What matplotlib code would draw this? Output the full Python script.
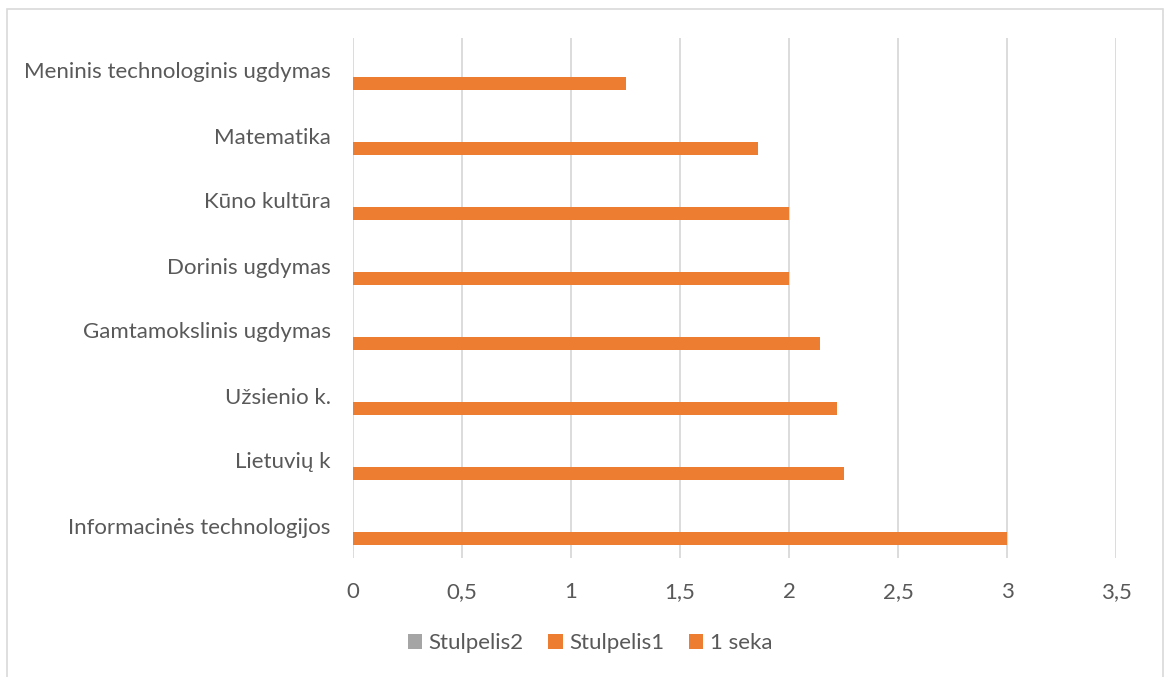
import matplotlib.pyplot as plt
import numpy as np
from matplotlib.patches import Rectangle
from matplotlib.ticker import FuncFormatter

# --- Data ---
categories = [
    "Informacinės technologijos",
    "Lietuvių k",
    "Užsienio k.",
    "Gamtamokslinis ugdymas",
    "Dorinis ugdymas",
    "Kūno kultūra",
    "Matematika",
    "Meninis technologinis ugdymas",
]
seka1 = [3.0, 2.25, 2.22, 2.14, 2.0, 2.0, 1.86, 1.25]
stulpelis1 = [0, 0, 0, 0, 0, 0, 0, 0]
stulpelis2 = [0, 0, 0, 0, 0, 0, 0, 0]
x_ticks = [0, 0.5, 1, 1.5, 2, 2.5, 3, 3.5]

plt.rcParams["font.family"] = ["Lato", "DejaVu Sans"]
text_color = "#595959"
orange = "#ED7D31"
gray = "#A5A5A5"
fs = 16

fig = plt.figure(figsize=(11.68, 6.77), dpi=100)
ax = fig.add_axes([353 / 1168, 1 - 558 / 677, (1116 - 353) / 1168, (558 - 38) / 677])

y = np.arange(len(categories))
h = 0.205
ax.barh(y - h, seka1, height=h, color=orange, label="1 seka", zorder=3)
ax.barh(y, stulpelis1, height=h, color=orange, label="Stulpelis1", zorder=3)
ax.barh(y + h, stulpelis2, height=h, color=gray, label="Stulpelis2", zorder=3)

ax.set_ylim(-0.5, len(categories) - 0.5)
ax.set_xlim(0, 3.5)
ax.set_yticks(y)
ax.set_yticklabels(categories)
ax.set_xticks(x_ticks)
ax.xaxis.set_major_formatter(FuncFormatter(lambda v, p: f"{v:g}".replace(".", ",")))

ax.grid(True, axis="x", color="#D9D9D9", linewidth=1.3, zorder=0)
for s in ax.spines.values():
    s.set_visible(False)
ax.tick_params(axis="x", length=0, pad=17, labelsize=fs, labelcolor=text_color)
ax.tick_params(axis="y", length=0, pad=16, labelsize=fs, labelcolor=text_color)

# legend in reverse order like the original
handles, labels = ax.get_legend_handles_labels()
fig.legend(handles[::-1], labels[::-1], loc="center", bbox_to_anchor=(590 / 1168, 1 - 643 / 677),
           ncol=3, frameon=False, fontsize=fs, labelcolor=text_color,
           handlelength=0.65, handleheight=0.65, handletextpad=0.3, columnspacing=1.1)

# outer chart border
fig.patches.append(Rectangle((7 / 1168, -0.05), (1163 - 7) / 1168, 1.05 - 9 / 677,
                             transform=fig.transFigure, fill=False, edgecolor="#D9D9D9", linewidth=1.2))

fig.savefig("out.png", dpi=100)
